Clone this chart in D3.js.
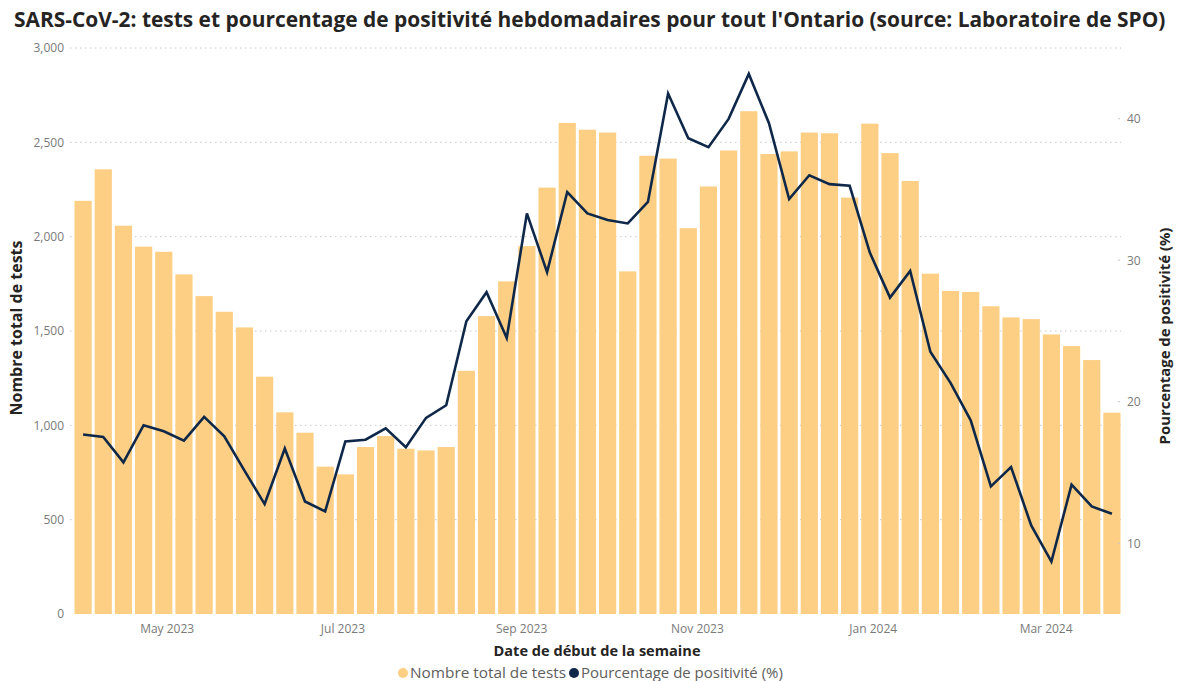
<!DOCTYPE html>
<html><head><meta charset="utf-8">
<script src="https://cdn.jsdelivr.net/npm/d3@7"></script>
<style>
html,body{margin:0;padding:0;background:#fff;}
svg{display:block;font-family:"Open Sans","Noto Sans",sans-serif;}
</style></head>
<body>
<svg id="chart" width="1177" height="681"></svg>
<script>
const titleText = "SARS-CoV-2: tests et pourcentage de positivité hebdomadaires pour tout l'Ontario (source: Laboratoire de SPO)";
const weekStarts = ["2023-04-02","2023-04-09","2023-04-16","2023-04-23","2023-04-30","2023-05-07","2023-05-14","2023-05-21","2023-05-28","2023-06-04","2023-06-11","2023-06-18","2023-06-25","2023-07-02","2023-07-09","2023-07-16","2023-07-23","2023-07-30","2023-08-06","2023-08-13","2023-08-20","2023-08-27","2023-09-03","2023-09-10","2023-09-17","2023-09-24","2023-10-01","2023-10-08","2023-10-15","2023-10-22","2023-10-29","2023-11-05","2023-11-12","2023-11-19","2023-11-26","2023-12-03","2023-12-10","2023-12-17","2023-12-24","2023-12-31","2024-01-07","2024-01-14","2024-01-21","2024-01-28","2024-02-04","2024-02-11","2024-02-18","2024-02-25","2024-03-03","2024-03-10","2024-03-17","2024-03-24"];
const totalTests = [2190,2357,2058,1947,1920,1800,1685,1602,1519,1258,1069,961,781,740,885,943,876,867,885,1289,1579,1763,1950,2260,2603,2567,2552,1816,2429,2414,2045,2266,2457,2665,2438,2452,2552,2548,2207,2599,2443,2295,1804,1712,1707,1631,1572,1563,1482,1420,1346,1067];
const positivity = [17.68,17.51,15.72,18.34,17.91,17.25,18.93,17.56,15.13,12.77,16.69,12.95,12.25,17.2,17.32,18.12,16.78,18.86,19.75,25.69,27.74,24.5,33.31,29.16,34.82,33.31,32.85,32.6,34.12,41.78,38.62,37.99,39.99,43.17,39.68,34.32,36.01,35.38,35.26,30.54,27.36,29.24,23.53,21.34,18.69,14.02,15.39,11.26,8.7,14.14,12.6,12.08];
const leftTicks = [0,500,1000,1500,2000,2500,3000];
const rightTicks = [10,20,30,40];
const xTickDates = ["2023-05-01","2023-07-01","2023-09-01","2023-11-01","2024-01-01","2024-03-01"];
const legendLabels = ["Nombre total de tests","Pourcentage de positivité (%)"];
const xTitle = "Date de début de la semaine";
const yLeftTitle = "Nombre total de tests";
const yRightTitle = "Pourcentage de positivité (%)";

const barColor = "#FCCF84", lineColor = "#0F2849", tickColor = "#7a7a7a";
const parse = d3.utcParse("%Y-%m-%d");
const dates = weekStarts.map(parse);
const svg = d3.select("#chart");

function fit(sel, w){ // adjust font-size so rendered width ~ w
  const node = sel.node(); const fs = parseFloat(sel.attr("font-size"));
  const cur = node.getComputedTextLength();
  if (cur>0) sel.attr("font-size", (fs*w/cur).toFixed(2));
}

const x = d3.scaleUtc()
  .domain([d3.utcHour.offset(dates[0], -84), d3.utcHour.offset(dates[dates.length-1], 84)])
  .range([73, 1122]);
const yL = d3.scaleLinear().domain([0,3000]).range([614,48]);
const yR = d3.scaleLinear().domain([5,45]).range([614,48]);
const bw = 17.2;

// gridlines
svg.append("g").selectAll("line").data(leftTicks.filter(d=>d>0)).join("line")
  .attr("x1",70).attr("x2",1121).attr("y1",d=>yL(d)).attr("y2",d=>yL(d))
  .attr("stroke","#c8c8c8").attr("stroke-width",1).attr("stroke-dasharray","1.5,3.5");

// bars
svg.append("g").selectAll("rect").data(totalTests).join("rect")
  .attr("x",(d,i)=>x(dates[i])-bw/2).attr("width",bw)
  .attr("y",d=>yL(d)).attr("height",d=>yL(0)-yL(d)).attr("fill",barColor);

// line
svg.append("path").datum(positivity)
  .attr("d", d3.line().x((d,i)=>x(dates[i])).y(d=>yR(d)))
  .attr("fill","none").attr("stroke",lineColor).attr("stroke-width",2.6)
  .attr("stroke-linejoin","miter");

// left axis
const gL = svg.append("g").attr("transform","translate(64,0)")
  .call(d3.axisLeft(yL).tickValues(leftTicks).tickFormat(d3.format(",")).tickSize(0).tickPadding(0));
gL.select(".domain").remove();
gL.selectAll("text").attr("fill",tickColor).attr("font-size",12).attr("font-family","Open Sans");

// right axis
const gR = svg.append("g").attr("transform","translate(1127,0)")
  .call(d3.axisRight(yR).tickValues(rightTicks).tickSize(0).tickPadding(0));
gR.select(".domain").remove();
gR.selectAll("text").attr("fill",tickColor).attr("font-size",12).attr("font-family","Open Sans");
svg.append("g").selectAll("line").data(rightTicks).join("line")
  .attr("x1",1118).attr("x2",1120).attr("y1",d=>yR(d)).attr("y2",d=>yR(d))
  .attr("stroke","#c8c8c8").attr("stroke-width",1);

// x axis
const gX = svg.append("g").attr("transform","translate(0,622)")
  .call(d3.axisBottom(x).tickValues(xTickDates.map(parse)).tickFormat(d3.utcFormat("%b %Y")).tickSize(0).tickPadding(0));
gX.select(".domain").remove();
gX.selectAll("text").attr("fill",tickColor).attr("font-size",12).attr("font-family","Open Sans").attr("dy","0.9em");

// title
const t = svg.append("text").attr("x",14).attr("y",27).attr("font-size",18).attr("font-weight","bold")
  .attr("fill","#252423").text(titleText);
fit(t, 1152);

// axis titles
const xt = svg.append("text").attr("x",597).attr("y",656).attr("text-anchor","middle")
  .attr("font-size",13).attr("font-weight","bold").attr("fill","#252423").text(xTitle);
fit(xt, 207);
const ylt = svg.append("text").attr("transform","translate(22,328) rotate(-90)").attr("text-anchor","middle")
  .attr("font-size",13).attr("font-weight","bold").attr("fill","#252423").text(yLeftTitle);
fit(ylt, 175);
const yrt = svg.append("text").attr("transform","translate(1170,336) rotate(-90)").attr("text-anchor","middle")
  .attr("font-size",13).attr("font-weight","bold").attr("fill","#252423").text(yRightTitle);
fit(yrt, 217);

// legend
const lg = svg.append("g");
const l1c = lg.append("circle").attr("cx",403).attr("cy",673).attr("r",5).attr("fill",barColor);
const l1 = lg.append("text").attr("x",410).attr("y",678).attr("font-size",13).attr("fill","#605E5C").text(legendLabels[0]);
fit(l1, 156);
const l2c = lg.append("circle").attr("cx",574).attr("cy",673).attr("r",5).attr("fill",lineColor);
const l2 = lg.append("text").attr("x",581).attr("y",678).attr("font-size",13).attr("fill","#605E5C").text(legendLabels[1]);
fit(l2, 202);
</script>
</body></html>
